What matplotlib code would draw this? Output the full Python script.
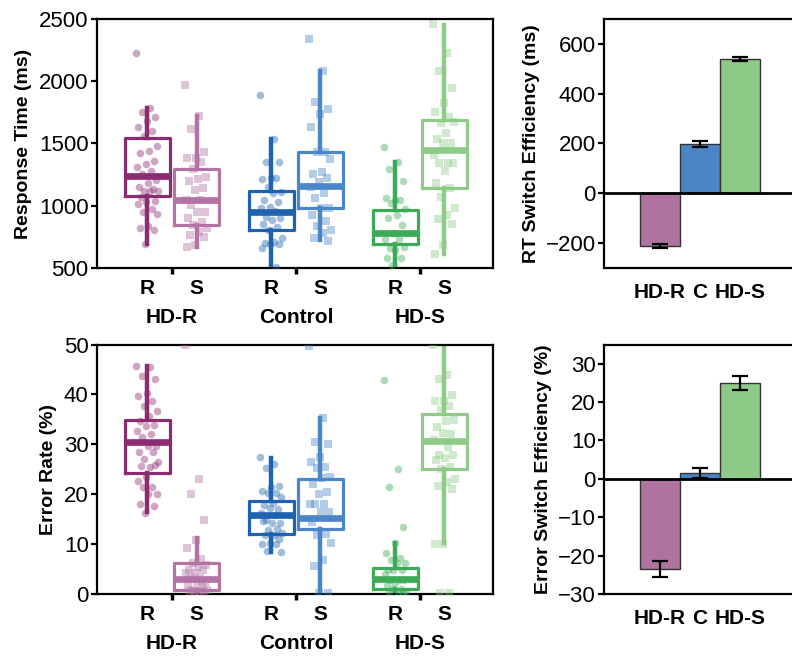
import numpy as np
import matplotlib
matplotlib.use('Agg')
import matplotlib.pyplot as plt

plt.rcParams['font.family'] = ['Liberation Sans', 'DejaVu Sans']

groups = ['HD-R', 'Control', 'HD-S']
conds = ['R', 'S']
bar_labels = ['HD-R', 'C', 'HD-S']

# colours: (repeat, switch) per group
dark = ['#8b2c72', '#1f62b0', '#3daa57']
light = ['#b473a5', '#4a86c8', '#8dcb87']
bar_colors = ['#b073a0', '#4a86c6', '#8dc987']

# response time (ms), single participants
rt_hdr_r = [2230, 1788, 1756, 1710, 1681, 1635, 1603, 1563, 1480, 1442, 1426, 1360, 1335, 1314, 1282, 1252, 1207,
            1180, 1153, 1135, 1121, 1121, 1121, 1073, 1041, 1028, 1014, 971, 953, 931, 837, 819, 805, 693]
rt_hdr_s = [1967, 1721, 1614, 1434, 1381, 1381, 1354, 1293, 1234, 1215, 1201, 1140, 1127, 1046, 1046, 1006, 953,
            947, 904, 872, 845, 819, 792, 765, 752, 685, 672]
rt_con_r = [1887, 1536, 1354, 1354, 1223, 1215, 1220, 1153, 1113, 1100, 1046, 1033, 987, 979, 961, 907, 899, 886,
            851, 832, 805, 744, 712, 704, 690, 690, 658, 505]
rt_con_s = [2337, 2082, 1831, 1777, 1734, 1635, 1434, 1434, 1373, 1274, 1252, 1226, 1194, 1148, 1105, 1065, 985,
            985, 926, 880, 840, 805, 779, 744, 717]
rt_hds_r = [1469, 1354, 1295, 1202, 1046, 1060, 1046, 1025, 971, 926, 899, 845, 779, 733, 733, 658, 666, 642, 583,
            578, 524]
rt_hds_s = [2457, 2224, 2082, 1943, 1823, 1750, 1716, 1662, 1675, 1582, 1536, 1501, 1501, 1408, 1341, 1341, 1341,
            1279, 1180, 1140, 1073, 979, 926, 891, 851, 685, 610]

# error rate (%), single participants
er_hdr_r = [45.7, 45.5, 43.6, 43.0, 40.2, 39.6, 38.6, 37.6, 36.7, 35.6, 34.6, 33.9, 33.7, 32.7, 32.0, 31.4, 29.7,
            29.7, 28.5, 28.5, 27.1, 26.5, 25.5, 25.7, 25.9, 23.4, 22.7, 21.4, 21.5, 20.0, 20.0, 18.0, 17.6, 16.3]
er_hdr_s = [49.9, 23.0, 20.0, 14.8, 10.8, 9.2, 7.0, 6.2, 5.8, 5.5, 4.8, 4.8, 4.2, 4.2, 3.3, 3.3, 2.5, 2.5, 1.6,
            1.6, 0.9, 0.9, 0.7, 0.7, 0.7, 0.7]
er_con_r = [27.4, 26.0, 25.3, 21.6, 21.4, 20.7, 20.3, 20.2, 19.5, 18.3, 17.8, 17.0, 17.2, 16.2, 15.8, 14.8, 14.3,
            14.2, 14.7, 13.0, 12.8, 12.3, 11.8, 11.8, 11.0, 10.3, 10.0, 10.0, 8.7, 8.4]
er_con_s = [49.7, 35.3, 30.5, 30.0, 27.4, 26.5, 25.4, 25.2, 23.4, 23.3, 22.0, 20.4, 20.0, 18.0, 18.0, 18.0, 16.5,
            16.5, 14.5, 12.0, 11.8, 10.2, 6.8, 5.7, 0.3, 0.3]
er_hds_r = [42.8, 25.0, 21.5, 13.5, 10.2, 8.3, 7.2, 6.9, 6.2, 6.2, 4.8, 4.8, 4.8, 4.1, 2.9, 2.8, 2.8, 2.3, 1.8,
            1.1, 1.1, 0.7, 0.5, 0.5, 0.3]
er_hds_s = [50.0, 43.9, 43.0, 39.9, 38.6, 38.6, 37.6, 36.9, 34.9, 34.7, 33.4, 32.0, 32.2, 30.9, 29.4, 27.9, 27.9,
            27.2, 26.9, 25.5, 25.0, 23.0, 22.4, 21.7, 21.0, 10.0, 10.0, 0.3, 0.3]

# box summaries: (whisker low, q1, median, q3, whisker high)
rt_boxes = [(693, 1082, 1235, 1540, 1783), (665, 845, 1044, 1295, 1721),
            (500, 805, 947, 1121, 1536), (725, 985, 1161, 1429, 2082),
            (500, 690, 781, 966, 1349), (610, 1140, 1448, 1689, 2452)]
er_boxes = [(16.4, 24.2, 30.5, 34.9, 45.7), (0.0, 0.8, 3.1, 6.3, 11.2),
            (8.4, 12.0, 15.9, 18.7, 27.2), (0.0, 13.0, 15.2, 23.0, 35.2),
            (0.0, 1.1, 3.1, 5.3, 10.2), (10.2, 25.0, 30.7, 36.1, 50.0)]

# switch efficiency (mean, sem)
rt_eff = [-210, 197, 539]
rt_eff_err = [8, 12, 8]
er_eff = [-23.5, 1.5, 25.0]
er_eff_err = [2.0, 1.3, 1.8]

rt_points = [rt_hdr_r, rt_hdr_s, rt_con_r, rt_con_s, rt_hds_r, rt_hds_s]
er_points = [er_hdr_r, er_hdr_s, er_con_r, er_con_s, er_hds_r, er_hds_s]

fig = plt.figure(figsize=(7.92, 6.56), dpi=100)
ax_rt = fig.add_axes([0.1225, 0.5915, 0.5, 0.3796])
ax_er = fig.add_axes([0.1225, 0.0945, 0.5, 0.3803])
ax_rtb = fig.add_axes([0.7626, 0.5915, 0.2727, 0.3796])
ax_erb = fig.add_axes([0.7626, 0.0945, 0.2727, 0.3803])

off = 0.198
positions = []
for g in range(3):
    positions += [g - off, g + off]
box_colors = [c for pair in zip(dark, light) for c in pair]


def style_axes(ax):
    for s in ax.spines.values():
        s.set_linewidth(1.6)
        s.set_color('black')
    ax.tick_params(axis='y', direction='out', length=4, width=1.6, labelsize=16, pad=2)


def box_panel(ax, boxes, points, ylim, yticks, ylabel):
    for i, (b, pts) in enumerate(zip(boxes, points)):
        st = [dict(whislo=b[0], q1=b[1], med=b[2], q3=b[3], whishi=b[4], fliers=[])]
        c = box_colors[i]
        ax.bxp(st, positions=[positions[i]], widths=0.36, showcaps=False, showfliers=False,
               boxprops=dict(color=c, linewidth=2.3),
               whiskerprops=dict(color=c, linewidth=3.2),
               medianprops=dict(color=c, linewidth=4.8, solid_capstyle='butt'),
               manage_ticks=False, zorder=2)
        n = len(pts)
        jit = ((np.arange(n) * 0.618034) % 1 - 0.5) * 0.18
        marker = 'o' if i % 2 == 0 else 's'
        ax.scatter(positions[i] + jit, pts, s=30, marker=marker, color=c, alpha=0.42,
                   linewidths=0, zorder=3)
    ax.set_xlim(-0.605, 2.59)
    ax.set_ylim(*ylim)
    ax.set_yticks(yticks)
    ax.set_ylabel(ylabel, fontsize=14, fontweight='bold', labelpad=5)
    ax.set_xticks([0, 1, 2])
    ax.set_xticklabels(groups, fontsize=15, fontweight='bold')
    ax.set_xticks(positions, minor=True)
    ax.set_xticklabels(conds * 3, minor=True, fontsize=15, fontweight='bold')
    style_axes(ax)
    ax.tick_params(axis='x', which='major', direction='out', length=4, width=2.5, pad=25)
    ax.tick_params(axis='x', which='minor', length=0, pad=8)


def bar_panel(ax, vals, errs, ylim, yticks, ylabel):
    x = np.arange(len(vals))
    ax.bar(x, vals, width=1.0, color=bar_colors, edgecolor='#333333', linewidth=1.0, zorder=2)
    ax.errorbar(x, vals, yerr=errs, fmt='none', ecolor='black', elinewidth=1.6, capsize=6,
                capthick=1.6, zorder=4)
    ax.axhline(0, color='black', linewidth=2.0, zorder=3)
    ax.set_xlim(-1.4, 4.0)
    ax.set_ylim(*ylim)
    ax.set_yticks(yticks)
    ax.set_xticks(x)
    ax.set_xticklabels(bar_labels, fontsize=15, fontweight='bold')
    ax.set_ylabel(ylabel, fontsize=14, fontweight='bold', labelpad=4)
    style_axes(ax)
    ax.tick_params(axis='x', length=0, pad=11)


box_panel(ax_rt, rt_boxes, rt_points, (500, 2500), [500, 1000, 1500, 2000, 2500], 'Response Time (ms)')
box_panel(ax_er, er_boxes, er_points, (0, 50), [0, 10, 20, 30, 40, 50], 'Error Rate (%)')
bar_panel(ax_rtb, rt_eff, rt_eff_err, (-300, 700), [-200, 0, 200, 400, 600], 'RT Switch Efficiency (ms)')
bar_panel(ax_erb, er_eff, er_eff_err, (-30, 35), [-30, -20, -10, 0, 10, 20, 30], 'Error Switch Efficiency (%)')

fig.savefig('out.png', dpi=100)
